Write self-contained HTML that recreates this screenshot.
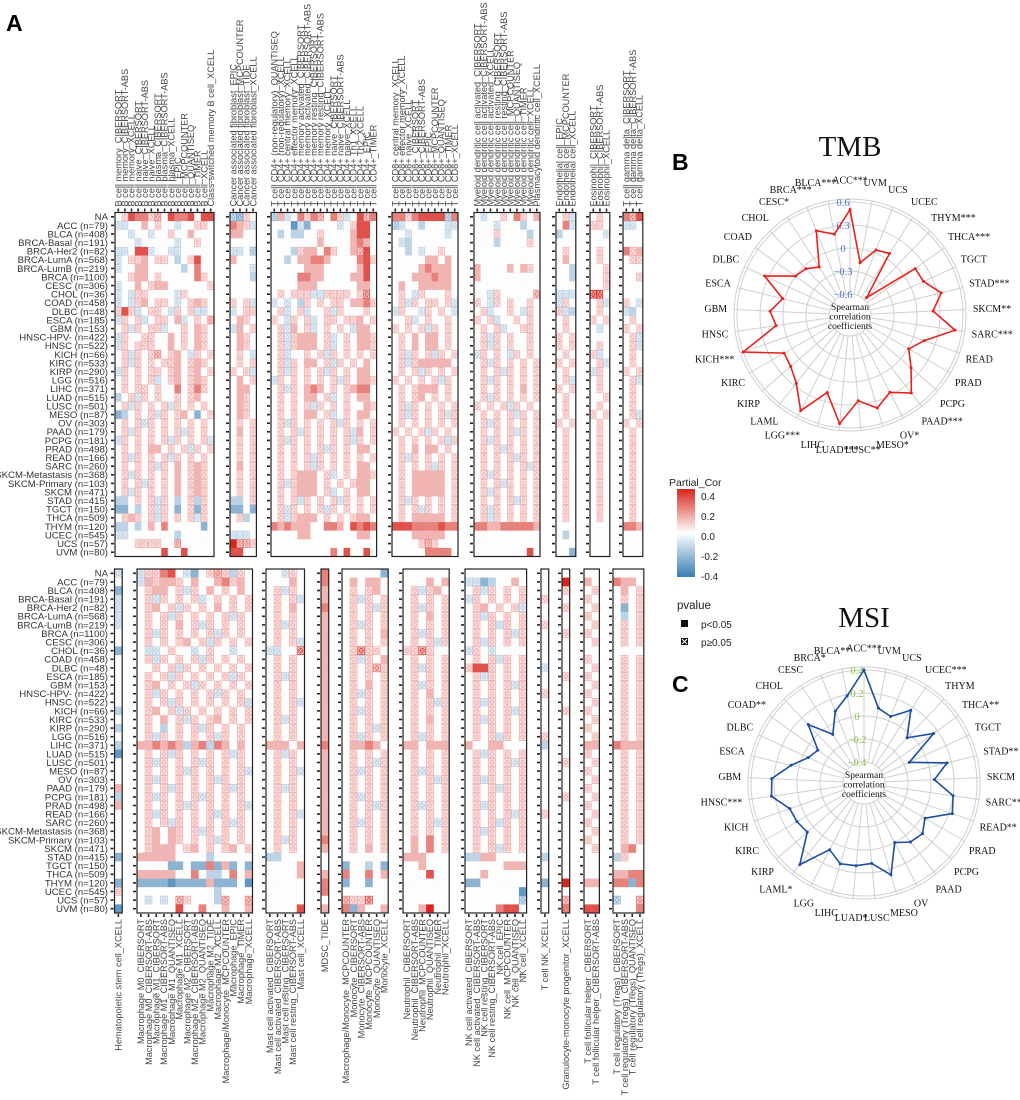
<!DOCTYPE html>
<html><head><meta charset="utf-8">
<style>
html,body{margin:0;padding:0;background:#fff;}
svg{display:block;}
text{font-family:"Liberation Sans",sans-serif;}
.serif{font-family:"Liberation Serif",serif;}
</style></head>
<body>
<svg id="fig" width="1020" height="1100" viewBox="0 0 1020 1100" xmlns="http://www.w3.org/2000/svg">
<text x="6" y="31" font-size="23" font-weight="bold">A</text>
<text x="672" y="170" font-size="23" font-weight="bold">B</text>
<text x="672" y="692" font-size="23" font-weight="bold">C</text>
<g id="heat"></g>
<g id="legend">
  <defs><linearGradient id="gcol" x1="0" y1="0" x2="0" y2="1">
    <stop offset="0" stop-color="#d7261e"/><stop offset="0.5" stop-color="#ffffff"/><stop offset="1" stop-color="#3a7db5"/></linearGradient></defs>
  <text x="669" y="486" font-size="10.5" fill="#222">Partial_Cor</text>
  <rect x="677" y="489" width="18" height="88" fill="url(#gcol)"/>
  <g font-size="10" fill="#222">
    <text x="701" y="500">0.4</text>
    <text x="701" y="520">0.2</text>
    <text x="701" y="540">0.0</text>
    <text x="701" y="560">-0.2</text>
    <text x="701" y="580">-0.4</text>
  </g>
  <text x="677" y="609" font-size="11.5" fill="#222">pvalue</text>
  <rect x="681" y="620" width="7" height="7" fill="#111"/>
  <text x="701" y="628" font-size="10" fill="#222">p&lt;0.05</text>
  <rect x="681" y="638" width="7" height="7" fill="#111"/>
  <path d="M682,639 L687,644 M687,639 L682,644" stroke="#fff" stroke-width="1"/>
  <text x="701" y="646" font-size="10" fill="#222">p≥0.05</text>
</g>
<g id="tmb"></g>
<g id="msi"></g>
</svg>
<script>
// ---------- heatmap data ----------
const rowLabels=["NA","ACC (n=79)","BLCA (n=408)","BRCA-Basal (n=191)","BRCA-Her2 (n=82)","BRCA-LumA (n=568)","BRCA-LumB (n=219)","BRCA (n=1100)","CESC (n=306)","CHOL (n=36)","COAD (n=458)","DLBC (n=48)","ESCA (n=185)","GBM (n=153)","HNSC-HPV- (n=422)","HNSC (n=522)","KICH (n=66)","KIRC (n=533)","KIRP (n=290)","LGG (n=516)","LIHC (n=371)","LUAD (n=515)","LUSC (n=501)","MESO (n=87)","OV (n=303)","PAAD (n=179)","PCPG (n=181)","PRAD (n=498)","READ (n=166)","SARC (n=260)","SKCM-Metastasis (n=368)","SKCM-Primary (n=103)","SKCM (n=471)","STAD (n=415)","TGCT (n=150)","THCA (n=509)","THYM (n=120)","UCEC (n=545)","UCS (n=57)","UVM (n=80)"];
const topGroups=[
 ["B cell memory_CIBERSORT","B cell memory_CIBERSORT-ABS","B cell memory_XCELL","B cell naive_CIBERSORT","B cell naive_CIBERSORT-ABS","B cell naive_XCELL","B cell plasma_CIBERSORT","B cell plasma_CIBERSORT-ABS","B cell plasma_XCELL","B cell_EPIC","B cell_MCPCOUNTER","B cell_QUANTISEQ","B cell_TIMER","B cell_XCELL","Class-switched memory B cell_XCELL"],
 ["Cancer associated fibroblast_EPIC","Cancer associated fibroblast_MCPCOUNTER","Cancer associated fibroblast_TIDE","Cancer associated fibroblast_XCELL"],
 ["T cell CD4+ (non-regulatory)_QUANTISEQ","T cell CD4+ (non-regulatory)_XCELL","T cell CD4+ central memory_XCELL","T cell CD4+ effector memory_XCELL","T cell CD4+ memory activated_CIBERSORT","T cell CD4+ memory activated_CIBERSORT-ABS","T cell CD4+ memory resting_CIBERSORT","T cell CD4+ memory resting_CIBERSORT-ABS","T cell CD4+ memory_XCELL","T cell CD4+ naive_CIBERSORT","T cell CD4+ naive_CIBERSORT-ABS","T cell CD4+ naive_XCELL","T cell CD4+ Th1_XCELL","T cell CD4+ Th2_XCELL","T cell CD4+_EPIC","T cell CD4+_TIMER"],
 ["T cell CD8+ central memory_XCELL","T cell CD8+ effector memory_XCELL","T cell CD8+ naive_XCELL","T cell CD8+_CIBERSORT","T cell CD8+_CIBERSORT-ABS","T cell CD8+_EPIC","T cell CD8+_MCPCOUNTER","T cell CD8+_QUANTISEQ","T cell CD8+_TIMER","T cell CD8+_XCELL"],
 ["Myeloid dendritic cell activated_CIBERSORT","Myeloid dendritic cell activated_CIBERSORT-ABS","Myeloid dendritic cell activated_XCELL","Myeloid dendritic cell resting_CIBERSORT","Myeloid dendritic cell resting_CIBERSORT-ABS","Myeloid dendritic cell_MCPCOUNTER","Myeloid dendritic cell_QUANTISEQ","Myeloid dendritic cell_TIMER","Myeloid dendritic cell_XCELL","Plasmacytoid dendritic cell_XCELL"],
 ["Endothelial cell_EPIC","Endothelial cell_MCPCOUNTER","Endothelial cell_XCELL"],
 ["Eosinophil_CIBERSORT","Eosinophil_CIBERSORT-ABS","Eosinophil_XCELL"],
 ["T cell gamma delta_CIBERSORT","T cell gamma delta_CIBERSORT-ABS","T cell gamma delta_XCELL"]];
const botGroups=[
 ["Hematopoietic stem cell_XCELL"],
 ["Macrophage M0_CIBERSORT","Macrophage M0_CIBERSORT-ABS","Macrophage M1_CIBERSORT","Macrophage M1_CIBERSORT-ABS","Macrophage M1_QUANTISEQ","Macrophage M1_XCELL","Macrophage M2_CIBERSORT","Macrophage M2_CIBERSORT-ABS","Macrophage M2_QUANTISEQ","Macrophage M2_TIDE","Macrophage M2_XCELL","Macrophage/Monocyte_MCPCOUNTER","Macrophage_EPIC","Macrophage_TIMER","Macrophage_XCELL"],
 ["Mast cell activated_CIBERSORT","Mast cell activated_CIBERSORT-ABS","Mast cell resting_CIBERSORT","Mast cell resting_CIBERSORT-ABS","Mast cell_XCELL"],
 ["MDSC_TIDE"],
 ["Macrophage/Monocyte_MCPCOUNTER","Monocyte_CIBERSORT","Monocyte_CIBERSORT-ABS","Monocyte_MCPCOUNTER","Monocyte_QUANTISEQ","Monocyte_XCELL"],
 ["Neutrophil_CIBERSORT","Neutrophil_CIBERSORT-ABS","Neutrophil_MCPCOUNTER","Neutrophil_QUANTISEQ","Neutrophil_TIMER","Neutrophil_XCELL"],
 ["NK cell activated_CIBERSORT","NK cell activated_CIBERSORT-ABS","NK cell resting_CIBERSORT","NK cell resting_CIBERSORT-ABS","NK cell_EPIC","NK cell_MCPCOUNTER","NK cell_QUANTISEQ","NK cell_XCELL"],
 ["T cell NK_XCELL"],
 ["Granulocyte-monocyte progenitor_XCELL"],
 ["T cell follicular helper_CIBERSORT","T cell follicular helper_CIBERSORT-ABS"],
 ["T cell regulatory (Tregs)_CIBERSORT","T cell regulatory (Tregs)_CIBERSORT-ABS","T cell regulatory (Tregs)_QUANTISEQ","T cell regulatory (Tregs)_XCELL"]];
// cell codes: a..i = -0.4..0.4 (e = 0); UPPERCASE = p<0.05, lowercase = p>=0.05
const topValues=[
"efHGGfgeHGGHeHH|cbfe|cFdeGfGgeGfdeHgG|GGfGHHHHcG|edeefeGfeF|efd|efe|GgH",
"ddeeFefeEdeeffe|GFfd|eeeBdCeeeedEfHHe|cdeeDeeedd|eeedeeeDEe|eGd|ffe|dde",
"eedeedeefeeFeee|FFee|eDeDDeefeeeeFHHe|eedeeeeede|eeefeeeeDe|Dee|eed|eee",
"eeedeeeeedeefee|eeee|eeeeEeeFeeeeFGFe|edDeeeeeee|eeeDeeeefe|eee|eee|eee",
"ddeHHdeeddeeeee|ddec|eeeDfFFeGfeeFgHe|eeDedeefee|eeeeeeeeee|efe|efe|GfF",
"deffFeffeDefHee|FeeE|eeDeFFGGFeeeEGHf|eeeeeFFeFe|eeeeeeeEee|eFe|efe|eff",
"deeFFeeeeeDeGee|eeed|eeeeeFFFeeeeEFHe|eeeeFGFFFe|FeeeeFeFfe|eeD|eef|eee",
"eefFFefeeeeeGfe|eeeD|eeeeGGFFeeeeFFHe|eeeFFFGFFe|FeeeeeeEee|eeD|eef|eef",
"deeFefFFeeeeeef|eeee|eeeeFFFeeeeeeFFe|eFeeFFFFFe|eeeeeeeeee|eee|eef|eee",
"dedffeeeedfeeee|eeee|efefffddffffefhe|efedfeeefe|eedfeeeeeg|ddd|iie|eee",
"dedfFeffedefFfe|fefd|dedeDfefeffeFFGf|efdfeffefd|fedfefeefe|dfe|efd|fed",
"fHfdeffedfefdde|deff|efdefdeefdfeeefe|dfeedfefed|efdeefedfe|fdD|efe|dDe",
"dfefdeffeFdefeg|eFfe|fedfefdeffeffFef|eefdefeefe|fefdeefefe|efe|fef|efe",
"efdfeffdeefeFfe|dFef|efdFefdefefedFFe|fefefdfefe|efefdeeffe|efe|ede|fef",
"dfeeffeeFefeFfe|eFfe|efdfFFFefdefeFFf|efeFeFFefe|efdfefeefe|fef|eee|efd",
"dfefffeeFefeFfe|eFfe|efdfFFFefdefeFFf|efeFeFFefe|efdfefeefe|fef|efe|efd",
"efdfefgefFedfef|efed|efdeefefdfefefef|efdfefdfef|dfefedfefe|efe|fde|efe",
"efdfefeffFefFfe|efef|efdfeFFefdfefeFe|efdfFFFFFe|efdfefefef|fef|efd|efe",
"dfefeffefFefFef|fefd|efdfefefdfefeFFe|efefdfefef|efefdfefef|efe|dfe|fef",
"efefefdefFefFfe|eFef|dfefefefefdfeFFf|fefefefdfe|efdfefefef|efd|efe|efd",
"efeffefeeGefGfe|eFFe|efdfeFGFefefFGGe|efefFFFefe|efefefeFef|fef|efe|efe",
"DefdfefeefefFee|eFfe|efefeFFefdefeFFe|efefFefefe|efdfefefef|efe|eef|efe",
"efdfefefdfefefe|eFfe|efefefdfefefeeFf|efdfefefef|fefefdfefe|efe|efe|efe",
"CDefefdfefFeCef|eFfe|efefeFFefdefeFFe|efdfefefdf|efefefdfef|efe|fef|efd",
"efefdfefefefefe|efef|efdfefefefdfefef|efefefefef|efdfefefef|fef|efe|fef",
"efdfefefefdfefe|eFef|efefdfefefefdFef|fefefdfefe|efefefdfef|efe|efe|efe",
"dfefefefdfefefd|efef|efdfefefefefdfef|efefefefdf|efdfefefef|efe|efe|efe",
"efefeFFefefdfef|efef|efefefefdfefeFFe|efeFeFFefe|efefdfefef|efe|efe|efe",
"efdfefefdfefefe|efef|efefefdfefefefef|efdfefefef|efefefdfef|efe|efe|efe",
"efefefdfeFefFfe|eFef|efefefdfefefeFFe|efefefdfef|efefefefdf|efe|efe|efe",
"efdfefefeFefFfe|efef|efefFFFefdefeFFf|efeFFFFFef|efdfefefef|efe|efe|efe",
"efefdfefeFefFfe|efef|efdfFFFefefefFFe|efeFFFFFef|efefdfefef|efe|efe|efe",
"efdfefefeFefFfe|efef|efefFFFefdefeFFe|efeFFFFFef|efdfefefef|efe|efe|efe",
"DDefefdfeDefDfe|DDef|efefdfefefdfefef|efdfefefef|efefefdfef|efe|efe|efe",
"CCeDefdfeCefCfe|CCeC|efdfefefdfefefef|efefdfefef|efdfefefef|efe|efe|efe",
"efFfefdfefefdfe|efDe|efdfFFFefefefFFe|efeFFFFFef|efdfefefef|efe|efe|efe",
"DDeDeFeGeeeeeCe|eeee|GFGFFFeeGGFeHGHG|HHHGGGGHGG|GGFFGGGGGF|eee|eee|GGF",
"ddeeeeeeeDeeeee|ddde|eeeeFFeeeeeeeFFe|eeeFFFFFee|eeeeeeeeee|eDe|eee|eee",
"eeeffffeegeeeee|Iggf|eeeeeeeeeeeeeeee|eeeefgfeee|eeeeeeeeee|eee|eee|eee",
"eeeeeeeHeeHeeee|HHee|eeeeeeeeeGeHeeHe|eeeeeGGGGe|eeeeeeeeHe|eeC|eee|eee"];
const botValues=[
"d|dffGHedCefgfDfe|eedfe|G|eeeeeC|eeeeee|eeeeeeee|e|e|ee|eeee",
"e|dFfFFfeFeeFGfFe|eeeFe|G|eFeFFe|eeeFeF|ddCDeeFe|e|I|Fe|GFFe",
"C|efFFefdfeFefeFe|efdfe|F|efefFe|efdfFe|efdfefef|e|f|ef|eFef",
"d|efdfefefdefefef|efefd|F|efdfef|efefef|dfefefef|f|e|fe|efef",
"d|efFefdfefeFefef|efeFe|G|efefdf|efdfef|efFefefd|e|f|ef|eCef",
"d|efefdfefefefdfe|efefe|F|efefef|efeFef|efdfefef|e|e|fe|eDef",
"d|efefeFefdfefefe|efdfe|F|efdfef|efefef|efefdfef|f|e|ef|efef",
"e|efdfefefefdfefe|efefe|F|efefeF|efdfef|efefefdf|e|f|fe|efef",
"e|efefefFefdfefef|efefd|F|efefef|efefdf|efdfefef|e|e|ef|efef",
"C|eddefeedefeedee|ddeeh|F|efhffe|ffhfee|dfedeeee|e|e|ee|eeee",
"e|efdfefefdfefefe|efefe|F|efdfeF|efefef|efefdfef|e|e|fe|efef",
"e|eefefdfefefefef|efefe|F|efefgf|efdfef|fHHfefef|d|e|ef|efef",
"e|efefdfefefefdfe|efdfe|F|efefef|efefef|efdfefef|e|f|fe|efef",
"e|efFefefdfefefef|efefe|F|efeFef|efdfef|efefefdf|e|e|ef|efef",
"e|efdfefefefdfefe|efefe|F|efdfef|efeFef|efefefef|f|e|fe|efef",
"e|efefdfefefefefd|efefd|F|efefef|efefdf|efdfefef|e|e|ef|efef",
"D|efFefdfefefefef|efefe|F|efdfef|efefef|efefefdf|e|f|fe|efef",
"e|efeFefdfefFefef|efdfe|F|efefef|efeFef|efdfefef|e|e|ef|efef",
"D|efeDefefdfefefe|efefe|F|efefdf|efefef|efefefef|e|e|fe|efef",
"e|efdfefefefdfefe|efefe|F|efdfef|efdfef|efefdfef|f|e|ef|efef",
"D|FFGFGFDFGDGFeFe|FFFeF|G|eFFGFe|FFeFFF|FeeFFeee|D|e|FF|GFFF",
"B|efefdfefefefdfe|efdfe|F|efefef|efefef|efdfefef|e|e|fe|efef",
"e|efdfefefdfefefe|efefe|F|efefdf|efefef|efefefdf|e|f|ef|efef",
"e|efefefdfefefefd|efefd|F|efdfef|efdfef|efefefef|e|e|fe|efef",
"e|efdfefefefdfefe|efefe|F|efefef|efefdf|efdfefef|e|e|ef|efef",
"F|efefdfefefefdfe|efdfe|F|efefef|efefef|efefdfef|e|e|fe|efef",
"D|efdfefefdfefefe|efefe|F|efdfef|efefef|efefefef|e|f|ef|efef",
"F|efefefdfefefefd|efefe|F|efefdf|efdfef|efdfefef|e|e|fe|efef",
"e|efdfefefefdfefe|efefd|F|efefef|efefef|efefefdf|f|e|ef|efef",
"e|efefdfefefefdfe|efefe|F|efdfef|efefdf|efefdfef|e|e|fe|efef",
"e|efFeFfefdfefefe|efefe|F|efefef|efefef|efdfefef|e|e|ef|efef",
"e|efFeFfefefdfefe|efdfe|G|efefef|eFeGef|efefefef|e|e|fe|efef",
"e|efFFFefFefefFef|efefe|F|efeFef|eFeGef|efefdfef|e|e|ef|eFGe",
"C|FFFFFeeeeDeeeee|DDeeE|E|eeeeee|FFFeee|DDFFeeee|D|e|ee|Dfee",
"e|eeeeCCeCCGCFCeC|eeeeF|E|CeeDeC|eeFeee|eeeeeFFF|e|e|ee|eeee",
"e|FFFFFeeGeDDeGeF|eeeeF|F|GeeGeF|eeeHee|eeFeeeee|e|e|ee|FFGG",
"C|CCCCBCCCCFCCCeB|eeeee|G|CeeCee|eeeeee|CCeeeeee|C|I|FF|GGCG",
"f|eeeeeeeeeeDeeee|eeeee|G|eeeeee|eeeeee|eeeeeeeB|e|e|ee|eeee",
"e|ededegfeeeDgeeg|eeeee|e|gffhee|eeeeee|eeeeeeec|e|g|ee|ceeg",
"B|eeeeeHeeGeeFeeF|eeeeH|F|GCFeeF|eeFIee|eeeeGHHe|e|G|HH|eeeG"];

// ---------- radar data ----------
const radarCats=["ACC","UVM","UCS","UCEC","THYM","THCA","TGCT","STAD","SKCM","SARC","READ","PRAD","PCPG","PAAD","OV","MESO","LUSC","LUAD","LIHC","LGG","LAML","KIRP","KIRC","KICH","HNSC","GBM","ESCA","DLBC","COAD","CHOL","CESC","BRCA","BLCA"];
const tmbStars=["***","","","","***","***","","***","**","***","","","","***","*","*","**","***","","***","","","","***","","","","","","","*","***","***"];
const tmbValues=[0.50,-0.18,0.04,0.08,-0.56,0.17,0.18,0.35,0.21,0.51,0.15,0.01,0.18,0.42,0.26,0.39,0.25,0.55,0.18,0.53,0.26,0.15,0.12,0.60,0.10,0.17,0.03,0.35,0.00,-0.04,-0.13,0.31,0.20];
const tmbTicks=[-0.6,-0.3,0,0.3,0.6];
const msiStars=["***","","","***","","**","","**","","**","**","","","","","","","*","","","*","","","","***","","","","**","","","*","**"];
const msiValues=[0.40,0.08,0.04,0.17,-0.04,0.16,-0.15,0.16,0.03,0.20,0.23,0.03,0.09,0.07,0.00,0.25,0.12,0.14,0.15,0.07,0.32,0.07,0.09,0.10,0.23,0.22,0.07,-0.05,-0.09,0.12,-0.08,0.09,0.19];
const msiTicks=[-0.4,-0.2,0,0.2,0.4];

const NS="http://www.w3.org/2000/svg";
function mk(tag,attrs,parent){const e=document.createElementNS(NS,tag);for(const k in attrs)e.setAttribute(k,attrs[k]);parent.appendChild(e);return e;}
function codeVal(c){return (c.toLowerCase().charCodeAt(0)-101)*0.1;}
function lerp(a,b,t){return Math.round(a+(b-a)*t);}
function colorOf(v){
  let t=Math.pow(Math.min(1,Math.abs(v)/0.4),0.8);
  const c=v>=0?[215,38,30]:[58,125,181];
  const w=[252,252,252];
  return "rgb("+lerp(w[0],c[0],t)+","+lerp(w[1],c[1],t)+","+lerp(w[2],c[2],t)+")";
}
const heat=document.getElementById('heat');

function drawPanelSet(groups,values,starts,cw,top,rh,labelsAbove){
  const nR=rowLabels.length;
  const rows=values.map(s=>s.split('|'));
  rowLabels.forEach((lab,r)=>{
    const t=mk('text',{x:108,y:top+r*rh+rh/2+3.4,'font-size':9.6,fill:'#333','text-anchor':'end'},heat);
    
    
    t.textContent=lab;
  });
  groups.forEach((cols,g)=>{
    const x0=starts[g];
    const pg=mk('g',{},heat);
    
    
    for(let r=0;r<nR;r++){
      const str=rows[r][g];
      for(let c=0;c<cols.length;c++){
        const ch=str[c]||'e';
        const v=codeVal(ch);
        const sig=ch!==ch.toLowerCase();
        const x=x0+c*cw,y=top+r*rh;
        const rc=mk('rect',{x:x,y:y,width:cw+0.2,height:rh+0.2,fill:colorOf(v)},pg);
        
        
        if(!sig){
          const p=mk('path',{d:`M${x+1.2},${y+1.2}h${cw-2.4}v${rh-2.4}h${-(cw-2.4)}z M${x+1.2},${y+1.2}L${x+cw-1.2},${y+rh-1.2} M${x+cw-1.2},${y+1.2}L${x+1.2},${y+rh-1.2}`,fill:'none',stroke:'#fff','stroke-width':0.6,opacity:0.8},pg);
          
          
        }
      }
      mk('line',{x1:x0-4,x2:x0-1,y1:top+r*rh+rh/2,y2:top+r*rh+rh/2,stroke:'#222','stroke-width':1.6},pg);
    }
    const w=cols.length*cw;
    const b=mk('rect',{x:x0,y:top,width:w,height:nR*rh,fill:'none',stroke:'#222','stroke-width':1.2},pg);
    
    
    cols.forEach((name,c)=>{
      const cx=x0+c*cw+cw/2;
      if(labelsAbove){
        mk('line',{x1:cx,x2:cx,y1:top-4,y2:top-1,stroke:'#222','stroke-width':1.6},pg);
        const t=mk('text',{x:0,y:0,'font-size':9.2,fill:'#444',transform:`translate(${cx+3.2},${top-6}) rotate(-90)`},pg);
        
        
        t.textContent=name;
      }else{
        const yb=top+nR*rh;
        mk('line',{x1:cx,x2:cx,y1:yb+1,y2:yb+4,stroke:'#222','stroke-width':1.6},pg);
        const t=mk('text',{x:0,y:0,'font-size':9.2,fill:'#444','text-anchor':'end',transform:`translate(${cx+3.2},${yb+6}) rotate(-90)`},pg);
        
        
        t.textContent=name;
      }
    });
  });
}
drawPanelSet(topGroups,topValues,[115,230,271,392,474,556,590,623],6.6,212.5,8.6,true);
drawPanelSet(botGroups,botValues,[114.5,137,266,321,342,403,465,541,562,584,613],7.7,569,8.6,false);

// ---------- radar ----------
function radar(gid,cx,cy,r0,r1,ticks,vals,stars,title,titleY,lineCol,tickCol){
  const g=document.getElementById(gid);
  const vmin=ticks[0],vmax=ticks[ticks.length-1];
  const rs=v=>r0+(v-vmin)/(vmax-vmin)*(r1-r0);
  const n=radarCats.length;
  const ang=i=>i*2*Math.PI/n;
  const t=mk('text',{x:cx,y:titleY,'font-size':29,'text-anchor':'middle',class:'serif',fill:'#111'},g);
  
  
  t.textContent=title;
  ticks.forEach(v=>{const c=mk('circle',{cx:cx,cy:cy,r:rs(v),fill:'none',stroke:'#cfcfcf','stroke-width':1},g);
    });
  mk('circle',{cx:cx,cy:cy,r:r1+3,fill:'none',stroke:'#cfcfcf','stroke-width':1},g);
  for(let i=0;i<n;i++){
    const a=ang(i);
    const s=mk('line',{x1:cx+r0*Math.sin(a),y1:cy-r0*Math.cos(a),x2:cx+(r1+3)*Math.sin(a),y2:cy-(r1+3)*Math.cos(a),stroke:'#cfcfcf','stroke-width':1},g);
    
    
    const lr=r1+22;
    const lx=cx+lr*Math.sin(a),ly=cy-lr*Math.cos(a);
    const sn=Math.sin(a);
    const anchor=Math.abs(sn)<0.15?'middle':(sn>0?'start':'end');
    const lt=mk('text',{x:lx+(anchor==='start'?-12:anchor==='end'?12:0),y:ly+3.5,'font-size':10,'text-anchor':anchor,class:'serif',fill:'#111'},g);
    
    
    lt.textContent=radarCats[i]+stars[i];
  }
  ticks.forEach(v=>{
    const tt=mk('text',{x:cx-7,y:cy-rs(v)+4,'font-size':10.5,'text-anchor':'middle',class:'serif',fill:tickCol},g);
    
    
    tt.textContent=(v<0?'\u2212'+Math.abs(v):String(v));
  });
  ['Spearman','correlation','coefficients'].forEach((w,k)=>{
    const ct=mk('text',{x:cx,y:cy-5+k*9.5,'font-size':9.5,'text-anchor':'middle',class:'serif',fill:'#111'},g);
    
    
    ct.textContent=w;
  });
  const pts=vals.map((v,i)=>[cx+rs(v)*Math.sin(ang(i)),cy-rs(v)*Math.cos(ang(i))]);
  const pl=mk('polygon',{points:pts.map(p=>p[0].toFixed(1)+','+p[1].toFixed(1)).join(' '),fill:'none',stroke:lineCol,'stroke-width':1.6,'stroke-linejoin':'miter'},g);
  
  
  pts.forEach(p=>{const c=mk('circle',{cx:p[0],cy:p[1],r:1.5,fill:lineCol},g);
    });
}
radar('tmb',850,315,21,113,tmbTicks,tmbValues,tmbStars,'TMB',156,'#e8231e','#4a74c4');
radar('msi',864,783,21,113,msiTicks,msiValues,msiStars,'MSI',627,'#1d4ea0','#86c440');
</script>
</body></html>
